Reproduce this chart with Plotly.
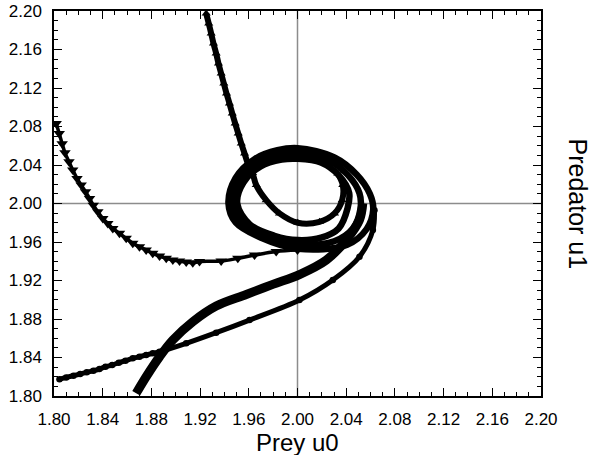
import plotly.graph_objects as go

# Trajectory A (triangle-down)
a_u0 = [1.8018, 1.8043, 1.8067, 1.8090, 1.8123, 1.8154, 1.8189, 1.8223, 1.8259, 1.8292,
        1.8323, 1.8360, 1.8401, 1.8442, 1.8483, 1.8538, 1.8593, 1.8647, 1.8702, 1.8757,
        1.8811, 1.8867, 1.8922, 1.8976, 1.9031, 1.9086, 1.9140, 1.9195, 1.9373, 1.9510,
        1.9647, 1.9825, 2.0000]
a_u1 = [2.0832, 2.0726, 2.0622, 2.0527, 2.0433, 2.0347, 2.0261, 2.0191, 2.0122, 2.0053,
        1.9983, 1.9914, 1.9845, 1.9793, 1.9741, 1.9690, 1.9638, 1.9586, 1.9550, 1.9516,
        1.9482, 1.9454, 1.9430, 1.9412, 1.9402, 1.9391, 1.9384, 1.9397, 1.9402, 1.9430,
        1.9464, 1.9501, 1.9516]

# Trajectory B (triangle-up), from the top edge into the ring
b_u0 = [1.9250, 1.9271, 1.9291, 1.9310, 1.9332, 1.9351, 1.9373, 1.9395, 1.9417, 1.9441,
        1.9464, 1.9488, 1.9513, 1.9538, 1.9565, 1.9592, 1.9631, 1.9661, 1.9743, 1.9852,
        2.0002, 2.0181, 2.0304, 2.0367, 2.0372, 2.0331]
b_u1 = [2.1974, 2.1870, 2.1766, 2.1662, 2.1559, 2.1455, 2.1351, 2.1247, 2.1143, 2.1040,
        2.0936, 2.0832, 2.0728, 2.0624, 2.0520, 2.0416, 2.0316, 2.0191, 2.0035, 1.9897,
        1.9800, 1.9810, 1.9897, 2.0035, 2.0191, 2.0312]

# Trajectory C (circles), from the left edge
c_u0 = [1.8045, 1.8100, 1.8160, 1.8215, 1.8269, 1.8324, 1.8373, 1.8423, 1.8478, 1.8532,
        1.8587, 1.8647, 1.8702, 1.8757, 1.8811, 1.8867, 1.9086, 1.9332, 1.9606, 2.0016,
        2.0290, 2.0509, 2.0619, 2.0632]
c_u1 = [1.8173, 1.8193, 1.8211, 1.8228, 1.8246, 1.8263, 1.8280, 1.8304, 1.8322, 1.8346,
        1.8367, 1.8391, 1.8408, 1.8426, 1.8443, 1.8460, 1.8547, 1.8658, 1.8789, 1.8997,
        1.9205, 1.9447, 1.9724, 1.9930]

# Trajectory D, from the bottom edge
d_u0 = [1.8675, 1.8757, 1.8867, 1.8976, 1.9140, 1.9332, 1.9579, 1.9797, 2.0016, 2.0236,
        2.0400, 2.0509, 2.0536]
d_u1 = [1.8028, 1.8200, 1.8408, 1.8582, 1.8772, 1.8935, 1.9055, 1.9160, 1.9262, 1.9412,
        1.9620, 1.9828, 2.0001]

# Limit-cycle loops (outer, middle, inner) around the equilibrium
r1_u0 = [2.0003, 2.0303, 2.0487, 2.0594, 2.0622, 2.0568, 2.0408, 2.0003, 1.9706, 1.9492,
         1.9433, 1.9492, 1.9650, 1.9835, 2.0003]
r1_u1 = [2.0575, 2.0478, 2.0299, 2.0101, 1.9935, 1.9735, 1.9571, 1.9530, 1.9641, 1.9803,
         2.0001, 2.0266, 2.0463, 2.0553, 2.0575]
r2_u0 = [2.0003, 2.0248, 2.0413, 2.0509, 2.0517, 2.0453, 2.0301, 2.0003, 1.9758, 1.9551,
         1.9469, 1.9524, 1.9674, 1.9853, 2.0003]
r2_u1 = [2.0520, 2.0452, 2.0297, 2.0106, 1.9942, 1.9738, 1.9608, 1.9575, 1.9653, 1.9792,
         2.0001, 2.0243, 2.0425, 2.0505, 2.0520]
r3_u0 = [2.0002, 2.0192, 2.0338, 2.0424, 2.0411, 2.0338, 2.0194, 2.0002, 1.9810, 1.9610,
         1.9505, 1.9556, 1.9697, 1.9870, 2.0002]
r3_u1 = [2.0464, 2.0426, 2.0295, 2.0111, 1.9949, 1.9741, 1.9645, 1.9620, 1.9665, 1.9781,
         2.0001, 2.0219, 2.0386, 2.0456, 2.0464]

x_ticks = [1.80, 1.84, 1.88, 1.92, 1.96, 2.00, 2.04, 2.08, 2.12, 2.16, 2.20]
tick_text = ["%.2f" % v for v in x_ticks]

FONT = "Liberation Sans, Arial, Helvetica, sans-serif"
K = "black"

fig = go.Figure()
for lx, ly in [(r1_u0, r1_u1), (r2_u0, r2_u1), (r3_u0, r3_u1)]:
    fig.add_trace(go.Scatter(x=lx, y=ly, mode="lines",
                             line=dict(color=K, width=6.5, shape="spline", smoothing=1.0),
                             hoverinfo="skip", showlegend=False))
fig.add_trace(go.Scatter(x=a_u0, y=a_u1, mode="lines+markers",
                         line=dict(color=K, width=3.5, shape="spline"),
                         marker=dict(symbol="triangle-down", size=10, color=K),
                         showlegend=False))
fig.add_trace(go.Scatter(x=b_u0, y=b_u1, mode="lines+markers",
                         line=dict(color=K, width=6, shape="spline"),
                         marker=dict(symbol="triangle-up", size=8, color=K),
                         showlegend=False))
fig.add_trace(go.Scatter(x=c_u0, y=c_u1, mode="lines+markers",
                         line=dict(color=K, width=5, shape="spline"),
                         marker=dict(symbol="circle", size=6.5, color=K),
                         showlegend=False))
fig.add_trace(go.Scatter(x=d_u0, y=d_u1, mode="lines",
                         line=dict(color=K, width=9, shape="spline"),
                         showlegend=False))

axis_common = dict(
    range=[1.80, 2.20], tickmode="array", tickvals=x_ticks, ticktext=tick_text,
    ticks="inside", ticklen=8, tickwidth=1.2, tickcolor=K,
    minor=dict(ticks="inside", ticklen=4, tickwidth=1.2, tickcolor=K, dtick=0.01, tick0=1.80),
    showline=True, linecolor=K, linewidth=1.5, mirror="ticks",
    showgrid=False, zeroline=False, automargin=False,
    tickfont=dict(family=FONT, size=17, color=K),
)
fig.update_xaxes(**axis_common, ticklabelstandoff=7)
fig.update_yaxes(**axis_common, ticklabelstandoff=7)

fig.add_shape(type="line", x0=2.0, x1=2.0, y0=1.80, y1=2.20, xref="x", yref="y",
              line=dict(color="#8c8c8c", width=1.5), layer="below")
fig.add_shape(type="line", x0=1.80, x1=2.20, y0=2.0, y1=2.0, xref="x", yref="y",
              line=dict(color="#8c8c8c", width=1.5), layer="below")

fig.add_annotation(text="Prey u0", xref="paper", yref="paper", x=0.5, y=0.0,
                   xanchor="center", yanchor="top", yshift=-31,
                   showarrow=False, font=dict(family=FONT, size=24, color=K))
fig.add_annotation(text="Predator u1", xref="paper", yref="paper", x=1.0, y=0.5,
                   xanchor="center", yanchor="middle", xshift=37, textangle=90,
                   showarrow=False, font=dict(family=FONT, size=25, color=K))

fig.update_layout(width=591, height=455, margin=dict(l=54, r=50, t=11, b=59),
                  plot_bgcolor="white", paper_bgcolor="white")

fig.write_html("out.html")
